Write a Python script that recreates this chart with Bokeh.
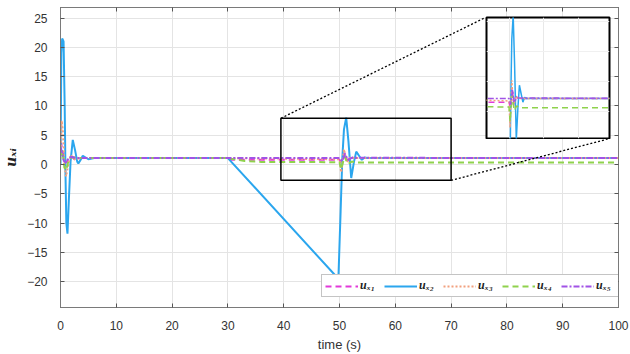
from bokeh.plotting import figure
from bokeh.models import (Range1d, SingleIntervalTicker, LinearAxis, Legend, LegendItem, Grid)
from bokeh.layouts import column
from bokeh.embed import file_html
from bokeh.resources import INLINE

# ---------------- data ----------------
T1 = [0, 0.2, 0.5, 0.8, 1.1, 1.5, 2.0, 2.5, 3.0, 4.0, 30.0, 30.5, 50.0, 50.4, 50.9, 51.4, 52.0, 52.6, 100]
U1 = [4, 3.2, 1.6, 0.5, 0.4, 1.2, 1.4, 0.9, 1.0, 1.1, 1.1, 0.8, 0.8, 0.3, 2.0, 0.6, 1.3, 1.1, 1.1]

T2 = [0, 0.15, 0.3, 0.55, 0.75, 0.9, 1.05, 1.25, 1.5, 1.8, 2.2, 2.6, 3.0, 3.2, 3.6, 4.0, 4.5, 5.0, 6.0,
      30.0, 49.8, 50.2, 50.5, 50.8, 51.2, 51.6, 52.1, 52.6, 53.0, 53.5, 54.0, 54.5, 55.0, 100.0]
U2 = [0, 19, 21.5, 21, 10, -2, -10, -11.8, -6, 0.5, 4.2, 2.5, 0.5, 0.2, 0.8, 1.5, 1.2, 0.9, 1.1,
      1.1, -19.5, -8, 1, 6, 8, 4, -2.3, 0.5, 2.2, 1.5, 0.8, 1.2, 1.1, 1.1]

T3 = [0, 0.2, 0.4, 0.7, 1.0, 1.3, 1.8, 2.5, 3.5, 30, 50.0, 50.3, 50.8, 51.3, 52.0, 52.6, 100]
U3 = [1, 7.5, 6, 0, -2, -0.5, 1.6, 0.9, 1.1, 1.1, 0.9, -1.3, 2.6, 0.4, 1.3, 1.1, 1.1]

T4 = [0, 0.3, 0.7, 1.0, 1.4, 2.0, 3.0, 30.0, 33.0, 36.0, 50.0, 50.3, 50.9, 51.5, 52.2, 53.0, 100]
U4 = [1.5, 2.5, -0.5, -1.0, 0.5, 1.3, 1.1, 1.1, 0.6, 0.45, 0.4, -0.8, 1.4, 0.1, 0.5, 0.35, 0.35]

T5 = [0, 0.3, 0.6, 1.0, 1.5, 2.0, 3.0, 50.0, 50.5, 51.0, 51.5, 52.2, 100]
U5 = [3, 2, 0.6, 0.3, 1.2, 1.3, 1.1, 1.1, 0.6, 1.8, 0.8, 1.15, 1.1]

LABELS = ["u\u2093\u2081", "u\u2093\u2082", "u\u2093\u2083", "u\u2093\u2084", "u\u2093\u2085"]
X_TITLE = "time (s)"
Y_TITLE = "u\u2093\u1d62"

ZOOM_T = (39.5, 70.0)      # zoom rectangle (data)
ZOOM_U = (-2.7, 7.9)
INSET_T = (43.5, 79.0)     # inset axis ranges
INSET_U = (-2.2, 7.8)

# ---------------- styles ----------------
COLORS = ["#e23ad9", "#2ba6ee", "#f2a07e", "#8fd24c", "#a153e6"]
DASHES = ["6 4", "solid", "2 2", "6 4", "6 2 2 2"]
W, H = 630, 354
L, R, TOP, BOT = 56, 12, 7, 47
XR = (0, 100)
YR = (-24.4, 26.8)
INSET_PX = (484, 17, 609, 138)   # left, top, right, bottom in page px
ALIGN_SHIFT = 58                  # column aligns inset frame with main frame (measured)

p = figure(width=W, height=H, x_range=Range1d(*XR), y_range=Range1d(*YR),
           output_backend="svg", toolbar_location=None,
           min_border_left=L, min_border_right=R, min_border_top=TOP, min_border_bottom=BOT)
p.background_fill_color = "white"
p.border_fill_color = "white"
p.outline_line_color = "#7a7a7a"
p.outline_line_width = 1

p.xaxis.ticker = SingleIntervalTicker(interval=10)
p.yaxis.ticker = SingleIntervalTicker(interval=5)
for ax in (p.xaxis[0], p.yaxis[0]):
    ax.major_tick_in = 4
    ax.major_tick_out = 0
    ax.minor_tick_line_color = None
    ax.axis_line_color = "#7a7a7a"
    ax.major_tick_line_color = "#555555"
    ax.major_label_text_font = "Liberation Sans"
    ax.major_label_text_font_size = "12px"
    ax.major_label_text_color = "#333333"
    ax.major_label_standoff = 9
p.xaxis.axis_label = X_TITLE
p.xaxis.axis_label_text_font = "Liberation Sans"
p.xaxis.axis_label_text_font_style = "normal"
p.xaxis.axis_label_text_font_size = "13px"
p.xaxis.axis_label_text_color = "#333333"
p.xaxis.axis_label_standoff = 4
p.yaxis.axis_label = Y_TITLE
p.yaxis.axis_label_text_font = "DejaVu Serif"
p.yaxis.axis_label_text_font_style = "bold italic"
p.yaxis.axis_label_text_font_size = "14px"
p.yaxis.axis_label_text_color = "#222222"
p.yaxis.axis_label_standoff = 5

for loc, iv in (("above", 10), ("right", 5)):
    ax = LinearAxis(ticker=SingleIntervalTicker(interval=iv), major_label_text_color=None,
                    major_label_text_font_size="1px",
                    major_label_standoff=0, major_tick_in=4, major_tick_out=0,
                    minor_tick_line_color=None, axis_line_color="#7a7a7a",
                    major_tick_line_color="#555555")
    p.add_layout(ax, loc)

p.xgrid.grid_line_color = "#e4e4e4"
p.ygrid.grid_line_color = "#e4e4e4"
p.xgrid.ticker = SingleIntervalTicker(interval=10)
p.ygrid.ticker = SingleIntervalTicker(interval=5)

series = [(T1, U1), (T2, U2), (T3, U3), (T4, U4), (T5, U5)]
items = []
for (t, u), c, d, lab in zip(series, COLORS, DASHES, LABELS):
    r = p.line(t, u, line_color=c, line_width=2, line_dash=d)
    items.append(LegendItem(label=lab, renderers=[r]))

# zoom rectangle
p.quad(left=[ZOOM_T[0]], right=[ZOOM_T[1]], bottom=[ZOOM_U[0]], top=[ZOOM_U[1]],
       fill_alpha=0, line_color="black", line_width=1.5)

# connectors: rectangle corners -> inset corners (page px converted to main data units)
fw = W - L - R
fh = H - TOP - BOT
def px_to_data(px, py):
    x = XR[0] + (px - L) / fw * (XR[1] - XR[0])
    y = YR[1] - (py - TOP) / fh * (YR[1] - YR[0])
    return x, y
ix0, iy0 = px_to_data(INSET_PX[0], INSET_PX[1])
ix1, iy1 = px_to_data(INSET_PX[2], INSET_PX[3])
p.segment(x0=[ZOOM_T[0], ZOOM_T[1]], y0=[ZOOM_U[1], ZOOM_U[0]],
          x1=[ix0, ix1], y1=[iy0, iy1], line_color="black", line_width=1.3, line_dash="2 2")

legend = Legend(items=items, orientation="horizontal", location=(261, 10),
                glyph_width=33, glyph_height=14, label_standoff=2, spacing=4, padding=3, margin=0,
                label_text_font="Liberation Serif", label_text_font_style="bold italic",
                label_text_font_size="12px", label_text_color="#222222",
                border_line_color="#8a8a8a", border_line_width=1,
                background_fill_color="white", background_fill_alpha=1.0)
p.add_layout(legend, "center")

# ---------------- inset ----------------
iw = INSET_PX[2] - INSET_PX[0]
ih = INSET_PX[3] - INSET_PX[1]
inset = figure(width=iw + ALIGN_SHIFT + R, height=ih + 2,
               x_range=Range1d(*INSET_T), y_range=Range1d(*INSET_U),
               output_backend="svg", toolbar_location=None, x_axis_type=None, y_axis_type=None,
               min_border_left=1, min_border_right=1, min_border_top=1, min_border_bottom=1)
inset.background_fill_color = "white"
inset.border_fill_color = None
inset.outline_line_color = "black"
inset.outline_line_width = 2
inset.add_layout(Grid(dimension=0, ticker=SingleIntervalTicker(interval=10), grid_line_color="#e8e8e8"))
inset.add_layout(Grid(dimension=1, ticker=SingleIntervalTicker(interval=2.5), grid_line_color="#f0f0f0"))
for (t, u), c, d in zip(series, COLORS, DASHES):
    inset.line(t, u, line_color=c, line_width=1.5, line_dash=d)
inset.styles = {"position": "absolute", "left": f"{INSET_PX[0] - ALIGN_SHIFT}px",
                "top": f"{INSET_PX[1] - 1}px", "z-index": "5"}

lay = column(p, inset, spacing=0)
lay.styles = {"position": "relative"}
open("out.html", "w").write(file_html(lay, INLINE))
